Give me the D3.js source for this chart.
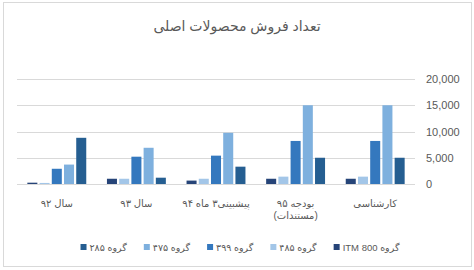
<!DOCTYPE html>
<html>
<head>
<meta charset="utf-8">
<script src="https://cdn.jsdelivr.net/npm/d3@7"></script>
<style>
  body { margin: 0; background: #fff; }
  text { font-family: "Liberation Sans", "DejaVu Sans", sans-serif; fill: #595959; }
</style>
</head>
<body>
<div id="chart-area"></div>
<script>
// data (Excel order, drawn right-to-left)
const categories = ["کارشناسی", "بودجه ۹۵|(مستندات)", "پیشبینی۳ ماه ۹۴", "سال ۹۳", "سال ۹۲"];
const seriesNames = ["گروه ۲۸۵", "گروه ۴۷۵", "گروه ۳۹۹", "گروه ۴۸۵", "گروه ITM 800"];
const s285 = [5000, 5000, 3300, 1200, 8800];
const s475 = [15000, 15000, 9750, 6900, 3700];
const s399 = [8200, 8200, 5400, 5200, 2900];
const s485 = [1400, 1400, 1000, 1000, 200];
const sITM = [1000, 1000, 650, 1000, 250];
const yTicks = [0, 5000, 10000, 15000, 20000];
const colors = ["#255E91", "#7EB0DE", "#3478BE", "#A3C6E8", "#264478"];

const seriesValues = [s285, s475, s399, s485, sITM];

const width = 474, height = 270;
const plot = { left: 17, right: 415, top: 79, bottom: 184 };

const svg = d3.select("#chart-area")
  .append("svg")
  .attr("width", width)
  .attr("height", height);

svg.append("rect")
  .attr("x", 3.5).attr("y", 2.5)
  .attr("width", 468).attr("height", 264)
  .attr("fill", "#fff")
  .attr("stroke", "#d9d9d9");

svg.append("text")
  .attr("x", 237).attr("y", 31)
  .attr("text-anchor", "middle")
  .style("direction", "rtl")
  .style("font-size", "14px")
  .text("تعداد فروش محصولات اصلی");

const y = d3.scaleLinear().domain([0, 20000]).range([plot.bottom, plot.top]);

const x0 = d3.scaleBand()
  .domain(categories)
  .range([plot.right, plot.left])
  .paddingInner(0.26)
  .paddingOuter(0.13);

const x1 = d3.scaleBand()
  .domain(seriesNames)
  .range([x0.bandwidth(), 0])
  .paddingInner(0.18);

// gridlines
svg.append("g")
  .selectAll("line")
  .data(yTicks)
  .enter()
  .append("line")
  .attr("x1", plot.left).attr("x2", plot.right)
  .attr("y1", d => Math.round(y(d)) + 0.5)
  .attr("y2", d => Math.round(y(d)) + 0.5)
  .attr("stroke", "#d9d9d9");

// y axis on the right
const yAxis = svg.append("g")
  .attr("transform", `translate(${plot.right + 11},0)`)
  .call(d3.axisRight(y).tickValues(yTicks).tickFormat(d3.format(",")).tickSize(0).tickPadding(0));
yAxis.select(".domain").remove();
yAxis.selectAll("text")
  .style("font-size", "11px")
  .style("font-family", "Liberation Sans, DejaVu Sans, sans-serif")
  .attr("fill", "#595959");

// bars
const groups = svg.append("g")
  .selectAll("g")
  .data(categories)
  .enter()
  .append("g")
  .attr("transform", d => `translate(${x0(d)},0)`);

groups.selectAll("rect")
  .data((c, ci) => seriesNames.map((s, si) => ({ s, si, v: seriesValues[si][ci] })))
  .enter()
  .append("rect")
  .attr("x", d => x1(d.s))
  .attr("width", x1.bandwidth())
  .attr("y", d => y(d.v))
  .attr("height", d => plot.bottom - y(d.v))
  .attr("fill", d => colors[d.si]);

// category labels
groups.each(function(c) {
  const lines = c.split("|");
  const t = d3.select(this).append("text")
    .attr("x", x0.bandwidth() / 2)
    .attr("y", 207)
    .attr("text-anchor", "middle")
    .style("direction", "rtl")
    .style("font-size", "10px");
  lines.forEach((l, i) => {
    t.append("tspan")
      .attr("x", x0.bandwidth() / 2)
      .attr("dy", i === 0 ? 0 : 12)
      .text(l);
  });
});

// legend
const legend = svg.append("g");
const items = legend.selectAll("g")
  .data(seriesNames)
  .enter()
  .append("g");
items.append("rect")
  .attr("width", 6).attr("height", 6)
  .attr("y", 244)
  .attr("fill", (d, i) => colors[i]);
items.append("text")
  .attr("y", 250.5)
  .attr("text-anchor", "middle")
  .style("direction", "rtl")
  .style("font-size", "9.5px")
  .text(d => d);

const widths = [];
items.select("text").each(function() { widths.push(this.getComputedTextLength()); });
const gap = 17;
const total = d3.sum(widths) + widths.length * 9 + (widths.length - 1) * gap;
let cx = 240 - total / 2;
items.each(function(d, i) {
  const g = d3.select(this);
  g.select("rect").attr("x", cx);
  g.select("text").attr("x", cx + 9 + widths[i] / 2);
  cx += 9 + widths[i] + gap;
});
</script>
</body>
</html>
